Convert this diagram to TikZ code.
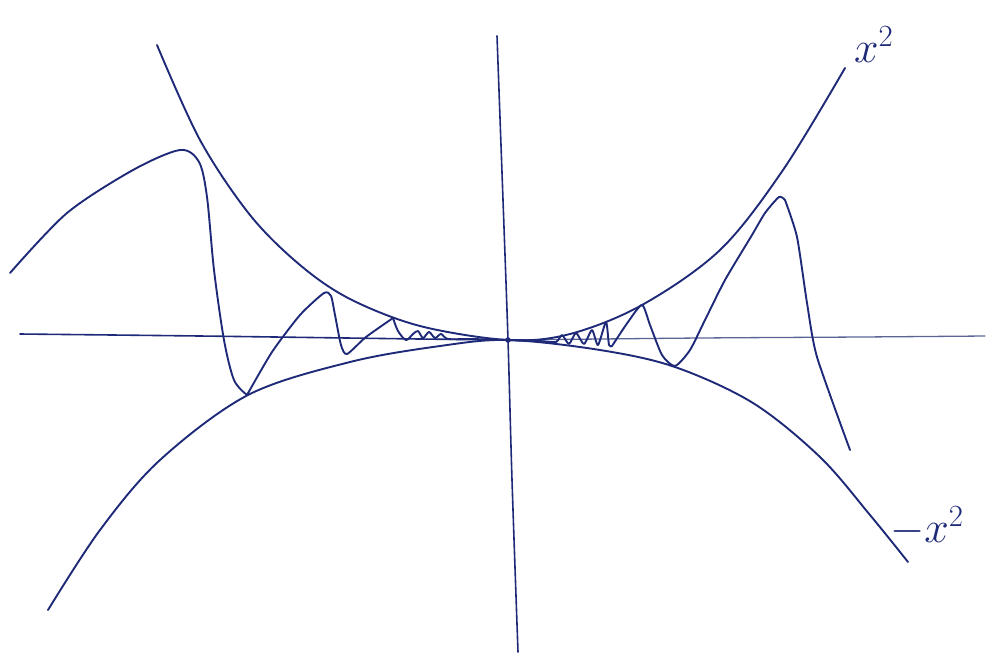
\RequirePackage{fix-cm}
\documentclass[tikz,border=0pt]{standalone}
\usepackage{amsmath}
\usepackage{xcolor}
\definecolor{penblue}{HTML}{1E2A78}
\definecolor{axisblue}{HTML}{5A6596}

\begin{document}
\begin{tikzpicture}[x=1pt, y=-1pt, line cap=round, line join=round,
    pen/.style={penblue, line width=1.9pt},
    axisline/.style={penblue, line width=1.6pt},
    penlabel/.style={penblue, inner sep=0pt, font=\fontsize{44}{44}\selectfont}]
  \useasboundingbox (0,0) rectangle (987,657);

  % axes (hand drawn, slightly bent)
  \draw[axisline] plot[smooth] coordinates {(20,334) (200,336) (420,339) (508,340)};
  \draw[axisblue, line width=1.3pt] plot[smooth] coordinates {(508,340) (700,338) (860,337) (985,336)};
  \draw[axisline] plot[smooth] coordinates {(497,36) (503,200) (508,340) (512,480) (518,652)};
  \fill[penblue] (508,340) circle (2.8pt);

  % upper bound x^2
  \draw[pen] plot[smooth, tension=0.55] coordinates
    {(157,45) (200,140) (250,215) (300,265) (350,299) (420,326) (508,340)
     (570,334) (642,305) (720,250) (783,170) (845,68)};

  % lower bound -x^2
  \draw[pen] plot[smooth, tension=0.55] coordinates
    {(48,610) (100,530) (160,460) (248,395) (350,362) (440,346) (508,340)
     (600,350) (675,367) (753,403) (820,457) (870,515) (908,562)};

  % squeezed curve, left half
  \draw[pen] plot[smooth, tension=0.5] coordinates
    {(10,273) (67,213) (133,170) (180,150) (199,162) (207,197) (214,270)
     (224,340) (234,380) (247,395)};
  \draw[pen] plot[smooth, tension=0.4] coordinates
    {(247,395) (272,352) (300,315) (324,293) (331,296) (335,315) (341,345) (347,354)
     (366,337) (393,318)};
  \draw[pen] plot[smooth, tension=0.5] coordinates
    {(393,318) (398,331) (406,340) (413,334) (418,331) (423,338) (429,332)
     (435,338) (441,334) (448,339) (470,339) (508,340)};

  % squeezed curve, right half
  \draw[pen] plot[smooth, tension=0.4] coordinates
    {(508,340) (540,341) (556,342) (562,335) (569,344) (576,333) (584,344)
     (592,330) (598,345) (606,322) (609,345) (612,346)};
  \draw[pen] plot[smooth, tension=0.4] coordinates
    {(612,346) (628,322) (642,305) (650,325) (662,355) (675,366)
     (690,350) (705,320) (725,280) (752,235) (765,213) (779,197) (785,200)};
  \draw[pen] plot[smooth, tension=0.4] coordinates
    {(785,200) (797,237) (807,303) (817,357) (850,450)};

  % labels
  \node[penlabel, anchor=base west] (lblsq) at (854,62) {$x^{2}$};
  \node[penlabel, anchor=base west] (lblnegsq) at (890,542) {$-x^{2}$};
\end{tikzpicture}
\end{document}
